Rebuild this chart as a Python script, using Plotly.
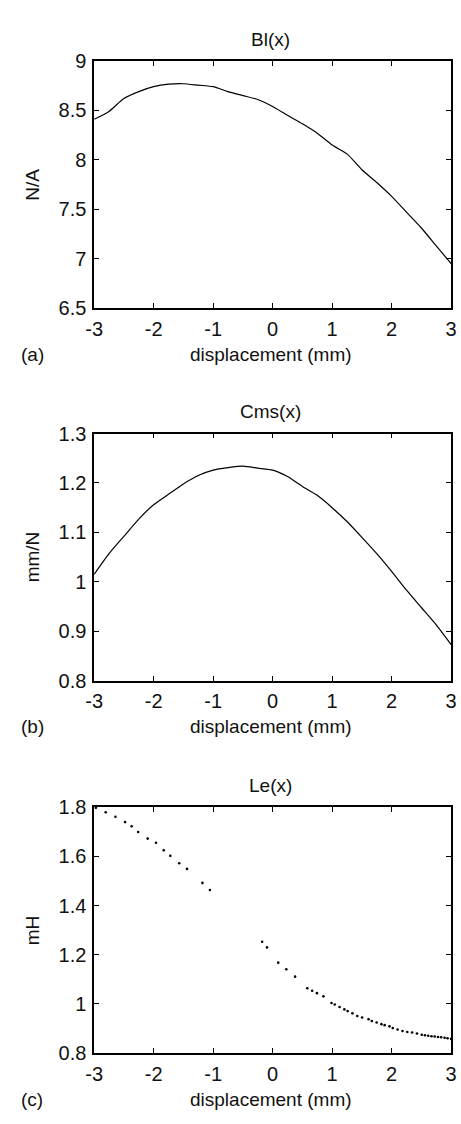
import plotly.graph_objects as go

W, H = 461, 1124

# displacement grid (mm)
x_grid = [-3, -2.75, -2.5, -2.25, -2, -1.75, -1.5, -1.25, -1, -0.75, -0.5, -0.25,
          0, 0.25, 0.5, 0.75, 1, 1.25, 1.5, 1.75, 2, 2.25, 2.5, 2.75, 3]

# force factor Bl(x), N/A
bl_values = [8.41, 8.49, 8.62, 8.69, 8.74, 8.765, 8.77, 8.755, 8.74, 8.69, 8.65, 8.61,
             8.54, 8.45, 8.365, 8.27, 8.15, 8.06, 7.90, 7.77, 7.63, 7.47, 7.31, 7.13, 6.95]

# compliance Cms(x), mm/N
cms_values = [1.015, 1.057, 1.092, 1.127, 1.156, 1.177, 1.198, 1.215, 1.226, 1.231, 1.234, 1.230,
              1.226, 1.213, 1.193, 1.175, 1.150, 1.122, 1.090, 1.057, 1.021, 0.983, 0.948, 0.913, 0.873]

# inductance Le(x), mH (sampled points)
le_x = [-2.97, -2.805, -2.642, -2.48, -2.37, -2.26, -2.10, -1.96, -1.83, -1.72, -1.57, -1.44,
        -1.18, -1.054,
        -0.176, -0.095, 0.094, 0.23, 0.377,
        0.583, 0.664, 0.745, 0.854, 0.989, 1.044, 1.125, 1.206, 1.260, 1.341, 1.423, 1.504,
        1.612, 1.667, 1.748, 1.829, 1.883, 1.964, 2.019, 2.100, 2.182, 2.263, 2.344, 2.426,
        2.507, 2.56, 2.615, 2.67, 2.724, 2.78, 2.832, 2.89, 2.940, 3.0]
le_values = [1.797, 1.779, 1.761, 1.739, 1.722, 1.699, 1.672, 1.655, 1.625, 1.602, 1.572, 1.549,
             1.492, 1.463,
             1.253, 1.230, 1.168, 1.141, 1.111,
             1.064, 1.054, 1.044, 1.031, 1.004, 0.998, 0.988, 0.978, 0.971, 0.962, 0.951, 0.945,
             0.938, 0.931, 0.925, 0.918, 0.914, 0.909, 0.902, 0.896, 0.890, 0.886, 0.884, 0.880,
             0.875, 0.873, 0.871, 0.869, 0.868, 0.866, 0.865, 0.863, 0.861, 0.858]

x_ticks = [-3, -2, -1, 0, 1, 2, 3]
x_tick_text = ["-3", "-2", "-1", "0", "1", "2", "3"]

bl_ticks = [6.5, 7, 7.5, 8, 8.5, 9]
bl_tick_text = ["6.5", "7", "7.5", "8", "8.5", "9"]
cms_ticks = [0.8, 0.9, 1.0, 1.1, 1.2, 1.3]
cms_tick_text = ["0.8", "0.9", "1", "1.1", "1.2", "1.3"]
le_ticks = [0.8, 1.0, 1.2, 1.4, 1.6, 1.8]
le_tick_text = ["0.8", "1", "1.2", "1.4", "1.6", "1.8"]

titles = ["Bl(x)", "Cms(x)", "Le(x)"]
y_titles = ["N/A", "mm/N", "mH"]
panel_tags = ["(a)", "(b)", "(c)"]
x_title = "displacement (mm)"

FONT = "Liberation Sans, Arial, Helvetica, sans-serif"
INK = "#111111"

# plot-box pixel extents (top, bottom) for each panel
boxes = [(51, 303), (431, 683), (812, 1063)]
left_px, right_px = 88, 457


def px(xp):
    return xp / W


def py(yp):
    return 1 - yp / H


fig = go.Figure()

fig.add_trace(go.Scatter(x=x_grid, y=bl_values, mode="lines",
                         line=dict(color="black", width=1.2, shape="spline", smoothing=0.6),
                         xaxis="x", yaxis="y", showlegend=False))
fig.add_trace(go.Scatter(x=x_grid, y=cms_values, mode="lines",
                         line=dict(color="black", width=1.2, shape="spline", smoothing=0.6),
                         xaxis="x2", yaxis="y2", showlegend=False))
fig.add_trace(go.Scatter(x=le_x, y=le_values, mode="markers",
                         marker=dict(color="black", size=2.6, line=dict(width=0)),
                         xaxis="x3", yaxis="y3", showlegend=False))

axis_common = dict(showgrid=False, zeroline=False, showline=True, linecolor="black",
                   linewidth=1.5, mirror="ticks", ticks="inside", ticklen=5,
                   tickwidth=1, tickcolor="black", ticklabeloverflow="allow",
                   tickfont=dict(family=FONT, size=20, color=INK))

y_specs = [(bl_ticks, bl_tick_text, [6.5, 9]),
           (cms_ticks, cms_tick_text, [0.8, 1.3]),
           (le_ticks, le_tick_text, [0.8, 1.8])]

layout = dict(width=W, height=H, margin=dict(l=0, r=0, t=0, b=0),
              paper_bgcolor="white", plot_bgcolor="white", showlegend=False)


def label(text, xp, yp, angle=0):
    return dict(text=text, x=px(xp), y=py(yp), xref="paper", yref="paper",
                xanchor="center", yanchor="middle", showarrow=False, textangle=angle,
                font=dict(family=FONT, size=19, color=INK))


annotations = []
for i, ((top, bot), (yt, ytt, yr)) in enumerate(zip(boxes, y_specs)):
    sfx = "" if i == 0 else str(i + 1)
    layout["xaxis" + sfx] = dict(axis_common, domain=[px(left_px), px(right_px)],
                                 range=[-3, 3], tickvals=x_ticks, ticktext=x_tick_text,
                                 anchor="y" + sfx, ticklabelstandoff=2)
    layout["yaxis" + sfx] = dict(axis_common, domain=[py(bot), py(top)],
                                 range=yr, tickvals=yt, ticktext=ytt,
                                 anchor="x" + sfx, ticklabelstandoff=2)
    mid = (left_px + right_px) / 2
    annotations.append(label(titles[i], mid - 2, top - 22))
    annotations.append(label(x_title, mid - 2, bot + 47))
    annotations.append(label(panel_tags[i], 24, bot + 47))
    annotations.append(label(y_titles[i], 24, (top + bot) / 2, -90))

layout["annotations"] = annotations
fig.update_layout(**layout)

fig.write_html("out.html")
